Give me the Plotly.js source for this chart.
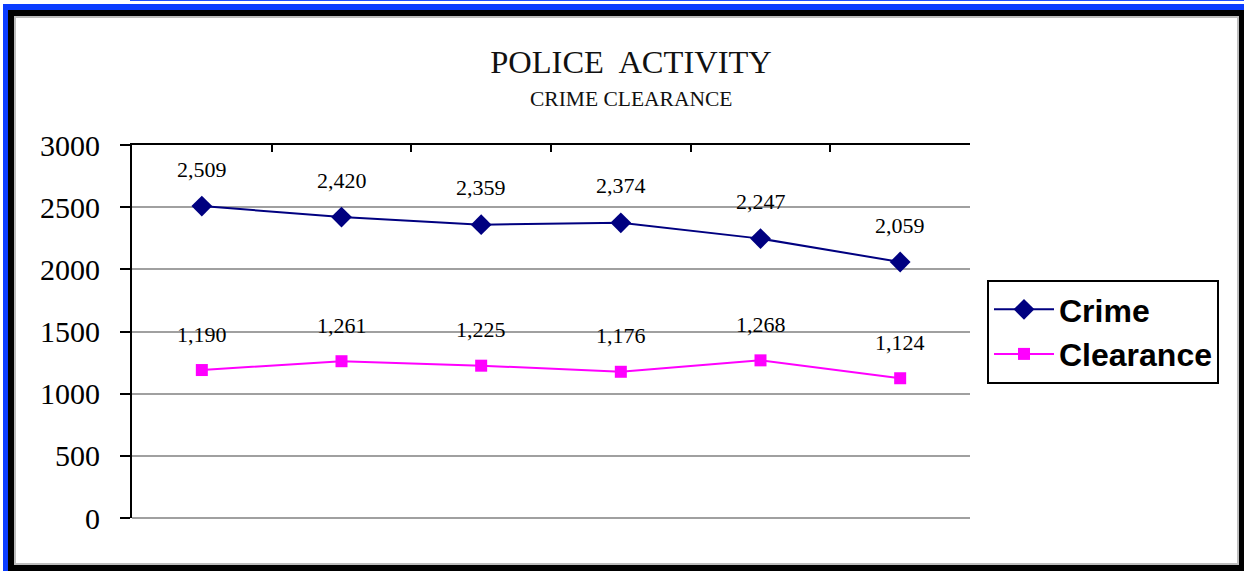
<!DOCTYPE html>
<html>
<head>
<meta charset="utf-8">
<script src="https://cdn.plot.ly/plotly-3.0.1.min.js"></script>
<style>
  html, body { margin: 0; padding: 0; background: #fff; width: 1244px; height: 571px; overflow: hidden; }
  #blueBar { position: absolute; left: 130px; top: 0; width: 1114px; height: 1px; background: #1a4dff; }
  #blue { position: absolute; left: 3px; top: 4px; width: 1241px; height: 567px; background: #0a3cff; }
  #black { position: absolute; left: 8px; top: 10px; width: 1236px; height: 561px; background: #000; }
  #white { position: absolute; left: 14px; top: 16px; width: 1221px; height: 545px; background: #fff; border: 2px solid #bdbdbd; }
  #chart { position: absolute; left: 0; top: 0; width: 1244px; height: 571px; }
</style>
</head>
<body>
<div id="blueBar"></div>
<div id="blue"></div>
<div id="black"></div>
<div id="white"></div>
<div id="chart"></div>
<script>
// Data
const categories = ["P1", "P2", "P3", "P4", "P5", "P6"];
const crime = [2509, 2420, 2359, 2374, 2247, 2059];
const clearance = [1190, 1261, 1225, 1176, 1268, 1124];
const yTicks = [0, 500, 1000, 1500, 2000, 2500, 3000];

const fmt = v => v.toLocaleString('en-US');

const traces = [
  {
    x: categories, y: crime, name: 'Crime', type: 'scatter', mode: 'lines+markers',
    line: { color: '#000080', width: 2 },
    marker: { symbol: 'diamond', size: 16, color: '#000080' },
    hoverinfo: 'skip'
  },
  {
    x: categories, y: clearance, name: 'Clearance', type: 'scatter', mode: 'lines+markers',
    line: { color: '#ff00ff', width: 2 },
    marker: { symbol: 'square', size: 12, color: '#ff00ff' },
    hoverinfo: 'skip'
  }
];

const labelFont = { family: '"Liberation Serif", "Times New Roman", serif', size: 22, color: '#000' };
const annotations = [];
categories.forEach((c, i) => {
  annotations.push({ x: c, y: crime[i], xref: 'x', yref: 'y', text: fmt(crime[i]), showarrow: false, yshift: 37, font: labelFont });
  annotations.push({ x: c, y: clearance[i], xref: 'x', yref: 'y', text: fmt(clearance[i]), showarrow: false, yshift: 36, font: labelFont });
});
annotations.push({
  text: 'CRIME CLEARANCE', xref: 'paper', yref: 'paper', x: (631 - 132) / 838, y: (518 - 99) / 373,
  xanchor: 'center', yanchor: 'middle', showarrow: false,
  font: { family: '"Liberation Serif", "Times New Roman", serif', size: 21.5, color: '#111' }
});

const layout = {
  width: 1244, height: 571,
  margin: { l: 132, r: 274, t: 145, b: 53 },
  paper_bgcolor: 'rgba(0,0,0,0)',
  plot_bgcolor: 'rgba(0,0,0,0)',
  title: {
    text: 'POLICE  ACTIVITY', xref: 'paper', x: (631 - 132) / 838, xanchor: 'center',
    yref: 'container', y: 1 - 62 / 571, yanchor: 'middle',
    font: { family: '"Liberation Serif", "Times New Roman", serif', size: 32.5, color: '#111' }
  },
  xaxis: {
    type: 'category', range: [-0.5, 5.5], side: 'top',
    showticklabels: false, showgrid: false, zeroline: false,
    showline: true, linecolor: '#000', linewidth: 2,
    ticks: 'inside', tickson: 'boundaries', ticklen: 7, tickwidth: 2, tickcolor: '#000',
    fixedrange: true
  },
  yaxis: {
    range: [0, 3000], tickvals: yTicks, ticktext: yTicks.map(String),
    showgrid: true, gridcolor: '#a0a0a0', gridwidth: 2,
    zeroline: true, zerolinecolor: '#a0a0a0', zerolinewidth: 2,
    showline: true, linecolor: '#000', linewidth: 2,
    ticks: 'outside', ticklen: 10, tickwidth: 2, tickcolor: '#000', ticklabelstandoff: 14,
    tickfont: { family: '"Liberation Serif", "Times New Roman", serif', size: 30, color: '#000' },
    fixedrange: true
  },
  showlegend: true,
  legend: {
    x: (987 - 132) / 838, y: (518 - 280) / 373, xanchor: 'left', yanchor: 'top',
    bordercolor: '#000', borderwidth: 2, bgcolor: '#fff',
    font: { family: '"Liberation Sans", Arial, sans-serif', size: 32, color: '#000', weight: 'bold' },
    itemwidth: 60
  },
  annotations: annotations
};

Plotly.newPlot('chart', traces, layout, { displayModeBar: false, staticPlot: true });
</script>
</body>
</html>
